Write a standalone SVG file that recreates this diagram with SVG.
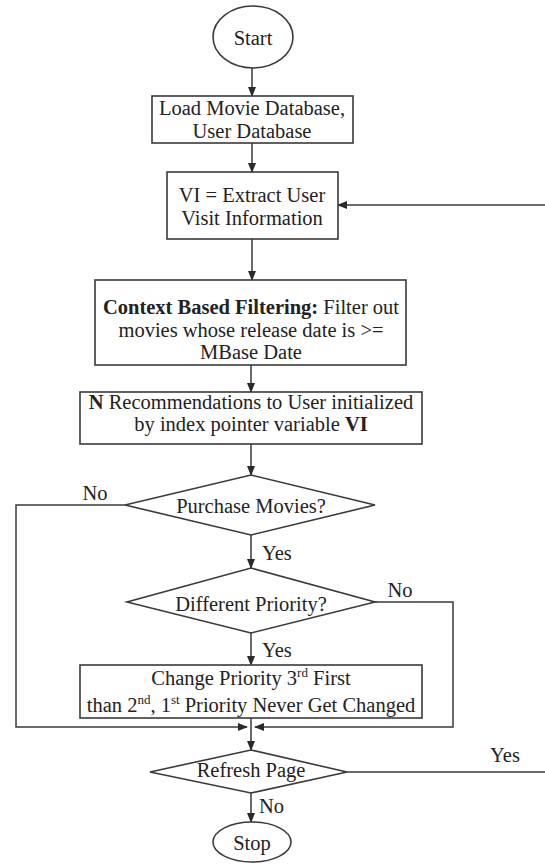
<svg xmlns="http://www.w3.org/2000/svg" width="545" height="865" viewBox="0 0 545 865">
<defs>
<marker id="ah" markerWidth="10" markerHeight="8" refX="9" refY="4" orient="auto" markerUnits="userSpaceOnUse">
<path d="M0,0 L10,4 L0,8 Z" fill="#2a2a2a"/>
</marker>
</defs>
<style>
.shape{fill:#fff;stroke:#3a3a3a;stroke-width:1.6}
.line{fill:none;stroke:#3a3a3a;stroke-width:1.5}
text{font-family:'Liberation Serif','DejaVu Serif',serif;font-size:20.5px;fill:#222;text-anchor:middle}
.lbl{text-anchor:start}
.b{font-weight:bold}
</style>
<rect width="545" height="865" fill="#fff"/>
<g font-family="Liberation Serif, DejaVu Serif, serif">
<g id="connectors">
<line class="line" x1="252" y1="68" x2="252" y2="96" marker-end="url(#ah)"/>
<line class="line" x1="252" y1="143" x2="252" y2="172" marker-end="url(#ah)"/>
<line class="line" x1="545" y1="205" x2="338" y2="205" marker-end="url(#ah)"/>
<line class="line" x1="252" y1="239" x2="252" y2="280" marker-end="url(#ah)"/>
<line class="line" x1="251" y1="365" x2="251" y2="392" marker-end="url(#ah)"/>
<line class="line" x1="251" y1="444" x2="251" y2="475" marker-end="url(#ah)"/>
<polyline class="line" points="125,505 16,505 16,727 247,727" marker-end="url(#ah)"/>
<line class="line" x1="251" y1="535" x2="251" y2="568" marker-end="url(#ah)"/>
<polyline class="line" points="375,602 453,602 453,727 255,727" marker-end="url(#ah)"/>
<line class="line" x1="251" y1="633" x2="251" y2="665" marker-end="url(#ah)"/>
<line class="line" x1="251" y1="718" x2="251" y2="750" marker-end="url(#ah)"/>
<line class="line" x1="347" y1="772" x2="545" y2="772"/>
<line class="line" x1="251" y1="793" x2="251" y2="822" marker-end="url(#ah)"/>
<text class="lbl" x="262" y="560">Yes</text>
<text class="lbl" x="262" y="657">Yes</text>
<text x="95" y="500">No</text>
<text x="400" y="597">No</text>
<text x="505" y="762">Yes</text>
<text class="lbl" x="259" y="813">No</text>
</g>
<g id="start">
<ellipse class="shape" cx="253" cy="37" rx="40" ry="31"/>
<text x="253" y="45">Start</text>
</g>
<g id="load">
<rect class="shape" x="152" y="96" width="201" height="47"/>
<text x="252" y="115">Load Movie Database,</text>
<text x="252" y="138">User Database</text>
</g>
<g id="extract">
<rect class="shape" x="167" y="172" width="171" height="67"/>
<text x="252" y="202">VI = Extract User</text>
<text x="252" y="225">Visit Information</text>
</g>
<g id="filter">
<rect class="shape" x="95" y="280" width="311" height="85"/>
<text x="251" y="314"><tspan class="b">Context Based Filtering:</tspan> Filter out</text>
<text x="251" y="337">movies whose release date is &gt;=</text>
<text x="251" y="359">MBase Date</text>
</g>
<g id="recommend">
<rect class="shape" x="80" y="392" width="342" height="52"/>
<text x="251" y="409"><tspan class="b">N</tspan> Recommendations to User initialized</text>
<text x="251" y="431">by index pointer variable <tspan class="b">VI</tspan></text>
</g>
<g id="purchase">
<polygon class="shape" points="251,475 375,505 251,535 125,505"/>
<text x="251" y="513">Purchase Movies?</text>
</g>
<g id="priority">
<polygon class="shape" points="251,568 375,602 251,633 127,602"/>
<text x="251" y="611">Different Priority?</text>
</g>
<g id="change">
<rect class="shape" x="80" y="665" width="342" height="53"/>
<text x="251" y="685">Change Priority 3<tspan font-size="13" dy="-8">rd</tspan><tspan dy="8"> First</tspan></text>
<text x="251" y="712">than 2<tspan font-size="13" dy="-8">nd</tspan><tspan dy="8">, 1</tspan><tspan font-size="13" dy="-8">st</tspan><tspan dy="8"> Priority Never Get Changed</tspan></text>
</g>
<g id="refresh">
<polygon class="shape" points="251,750 347,772 251,793 150,772"/>
<text x="251" y="777">Refresh Page</text>
</g>
<g id="stop">
<ellipse class="shape" cx="252" cy="842" rx="39" ry="20"/>
<text x="252" y="850">Stop</text>
</g>
</g>
</svg>
